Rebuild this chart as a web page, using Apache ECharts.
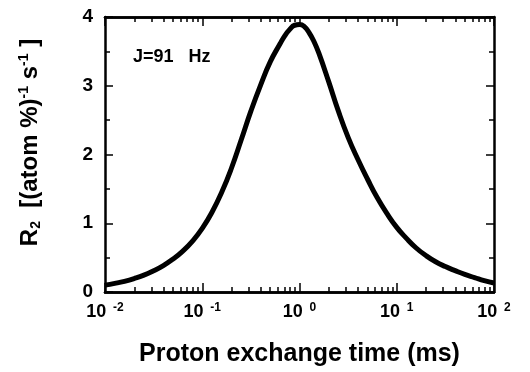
<!DOCTYPE html>
<html>
<head>
<meta charset="utf-8">
<script src="https://cdn.jsdelivr.net/npm/echarts@6/dist/echarts.min.js"></script>
<style>
  html, body { margin: 0; padding: 0; background: #fff; }
  #chart { width: 530px; height: 372px; }
</style>
</head>
<body>
<div id="chart"></div>
<script>
// exchange time as decade exponent (log10 of ms) and R2
var tauExp = [-2.0, -1.9, -1.8, -1.7, -1.6, -1.5, -1.4, -1.3, -1.2, -1.1, -1.0,
  -0.9, -0.8, -0.7, -0.6, -0.5, -0.4, -0.3, -0.2, -0.15, -0.1, -0.05, 0.0,
  0.05, 0.1, 0.15, 0.2, 0.3, 0.4, 0.5, 0.6, 0.7, 0.8, 0.9, 1.0,
  1.1, 1.2, 1.3, 1.4, 1.5, 1.6, 1.7, 1.8, 1.9, 2.0];
var r2 = [0.10, 0.125, 0.155, 0.195, 0.245, 0.31, 0.385, 0.48, 0.595, 0.74, 0.925,
  1.16, 1.45, 1.80, 2.21, 2.63, 3.01, 3.35, 3.61, 3.73, 3.82, 3.88, 3.89,
  3.86, 3.77, 3.64, 3.47, 3.06, 2.63, 2.25, 1.93, 1.64, 1.37, 1.14, 0.94,
  0.78, 0.64, 0.53, 0.44, 0.37, 0.31, 0.255, 0.21, 0.165, 0.13];
var decades = [-2, -1, 0, 1, 2];
var mantissas = [2, 3, 4, 5, 6, 7, 8, 9];

var minorTicks = [];
decades.slice(0, 4).forEach(function (d) {
  mantissas.forEach(function (m) { minorTicks.push(d + Math.log10(m)); });
});

var lineData = tauExp.map(function (e, i) { return [e, r2[i]]; });

var font = 'Liberation Sans, Arial, Helvetica, sans-serif';

function xAxis(pos, labels, ticks, len) {
  return {
    type: 'value', position: pos, min: -2, max: 2, interval: 1,
    axisLine: { show: true, onZero: false, lineStyle: { color: '#000', width: 2.5 } },
    axisTick: { inside: true, length: len, lineStyle: { color: '#000', width: 1.5 }, customValues: ticks },
    axisLabel: labels ? {
      margin: 10,
      formatter: function (v) { return '{b|10}{s|  ' + v + '}'; },
      rich: {
        b: { fontFamily: font, fontWeight: 'bold', fontSize: 18, color: '#000' },
        s: { fontFamily: font, fontWeight: 'bold', fontSize: 12, color: '#000', padding: [0, 0, 9, 0] }
      }
    } : { show: false },
    splitLine: { show: false }
  };
}

var bottom = xAxis('bottom', true, null, 9);
bottom.name = 'Proton exchange time (ms)';
bottom.nameLocation = 'middle';
bottom.nameGap = 50;
bottom.nameTextStyle = { fontFamily: font, fontWeight: 'bold', fontSize: 25, color: '#000' };

function yAxis(pos, labels) {
  return {
    type: 'value', position: pos, min: 0, max: 4, interval: 1,
    axisLine: { show: true, onZero: false, lineStyle: { color: '#000', width: 2.5 } },
    axisTick: { inside: true, length: 8, lineStyle: { color: '#000', width: 1.5 } },
    minorTick: { show: true, splitNumber: 2, length: 5, lineStyle: { color: '#000', width: 1.5 } },
    axisLabel: labels ? { margin: 12, fontFamily: font, fontWeight: 'bold', fontSize: 19, color: '#000' } : { show: false },
    splitLine: { show: false }
  };
}

var left = yAxis('left', true);
left.name = '{b|R}{sub|2}{b|  [(atom %)}{sup|-1}{b| s}{sup|-1}{b| ]}';
left.nameLocation = 'middle';
left.nameGap = 62;
left.nameTextStyle = {
  padding: [0, 0, 0, 24],
  rich: {
    b: { fontFamily: font, fontWeight: 'bold', fontSize: 24, color: '#000' },
    sub: { fontFamily: font, fontWeight: 'bold', fontSize: 14, color: '#000', padding: [12, 0, 0, 0] },
    sup: { fontFamily: font, fontWeight: 'bold', fontSize: 14, color: '#000', padding: [0, 0, 12, 0] }
  }
};

var option = {
  animation: false,
  backgroundColor: '#fff',
  grid: { left: 105, right: 36, top: 17, bottom: 78 },
  xAxis: [
    bottom,
    xAxis('bottom', null, minorTicks, 5),
    xAxis('top', null, null, 9),
    xAxis('top', null, minorTicks, 5)
  ],
  yAxis: [left, yAxis('right', false)],
  graphic: [{
    type: 'text', left: 133, top: 48,
    style: { text: 'J=91   Hz', fontFamily: font, fontWeight: 'bold', fontSize: 18, fill: '#000' }
  }],
  series: [{
    type: 'line', xAxisIndex: 0, yAxisIndex: 0,
    data: lineData, smooth: 0.5, showSymbol: false,
    lineStyle: { color: '#000', width: 5 }
  }]
};

var myChart = echarts.init(document.getElementById('chart'));
myChart.setOption(option);
</script>
</body>
</html>
